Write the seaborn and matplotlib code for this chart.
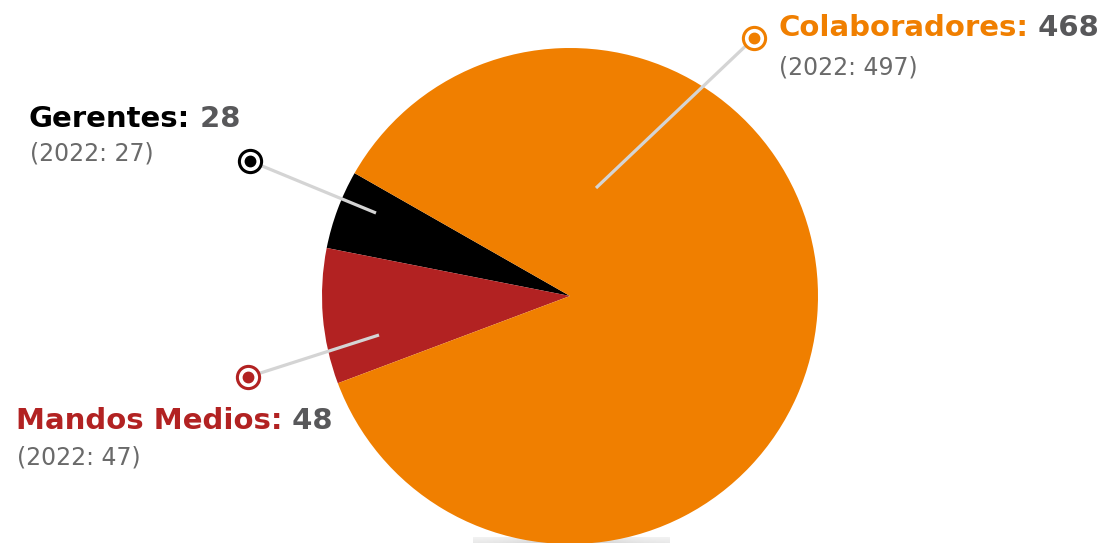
import numpy as np
import matplotlib.pyplot as plt
import seaborn as sns

# Data
categories = ['Gerentes', 'Mandos Medios', 'Colaboradores']
values_2023 = [28, 48, 468]
values_2022 = [27, 47, 497]
slice_colors = ['#000000', '#b22222', '#f07f00']

sns.set_theme(style='white')
plt.rcParams['font.family'] = ['DejaVu Sans']

W, H = 1113, 543
fig = plt.figure(figsize=(W / 100, H / 100), dpi=100)
ax = fig.add_axes([0, 0, 1, 1])

# pie centre / radius in pixel units (y measured from the bottom)
cx, cy, r = 570, H - 296, 248

# soft shadow peeking out under the pie
hx = np.linspace(-1, 1, 200)
alpha = 0.18 + 0.25 * np.exp(-(hx ** 2) / 0.3)
shadow = np.zeros((6, 200, 4))
shadow[..., :3] = 0.55
shadow[..., 3] = alpha[None, :] * np.linspace(0.6, 1.0, 6)[:, None]
ax.imshow(shadow, extent=(473, 670, 0, 6), aspect='auto', zorder=0)

ax.pie(values_2023, colors=slice_colors, startangle=150.3, counterclock=True,
       center=(cx, cy), radius=r, wedgeprops=dict(linewidth=0))

# label layout (pixels, top-left origin): line start, marker, text origin
layout = {
    'Colaboradores': dict(inner=(596, 188), marker=(754, 38), text=(778, 36), sub=75),
    'Gerentes': dict(inner=(376, 213), marker=(250, 161), text=(29, 127), sub=161),
    'Mandos Medios': dict(inner=(379, 335), marker=(248, 377), text=(16, 429), sub=465),
}

for cat, val, prev, col in zip(categories, values_2023, values_2022, slice_colors):
    lay = layout[cat]
    x0, y0 = lay['inner']
    x1, y1 = lay['marker']
    ax.plot([x0, x1], [H - y0, H - y1], color='#d4d4d4', lw=2.3,
            solid_capstyle='butt', zorder=3)
    ax.plot(x1, H - y1, 'o', ms=16, mfc='white', mec=col, mew=2.2, zorder=4)
    ax.plot(x1, H - y1, 'o', ms=7.5, color=col, zorder=5)

    tx, ty = lay['text']
    t1 = ax.text(tx, H - ty, f'{cat}:', color=col, fontsize=21,
                 fontweight='bold', va='baseline', ha='left')
    ax.annotate(f' {val}', xy=(1, 0), xycoords=t1, va='bottom', ha='left',
                color='#58585a', fontsize=21, fontweight='bold')
    ax.text(tx + 1, H - lay['sub'], f'(2022: {prev})', color='#6a6a6a',
            fontsize=17, va='baseline', ha='left')

ax.set_xlim(0, W)
ax.set_ylim(0, H)
ax.axis('off')

fig.savefig('out.png', dpi=100)
